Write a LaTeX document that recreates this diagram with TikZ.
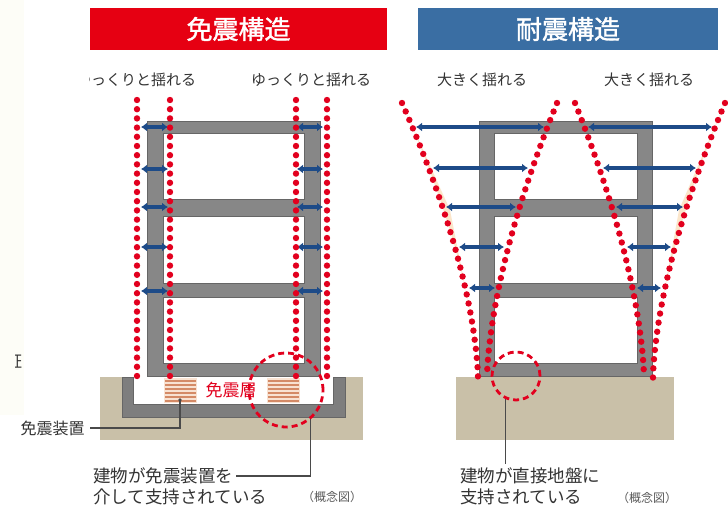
\documentclass[tikz,border=0pt]{standalone}
\usepackage{fontspec}
\newfontfamily\jp{Noto Sans CJK JP}
\newfontfamily\jpb[FakeBold=1.5]{Noto Sans CJK JP}
\usetikzlibrary{arrows.meta}

\definecolor{titlered}{HTML}{E60012}
\definecolor{titleblue}{HTML}{3A6EA3}
\definecolor{dotred}{HTML}{E2001E}
\definecolor{navy}{HTML}{1D4B88}
\definecolor{framegray}{HTML}{878787}
\definecolor{frameedge}{HTML}{666666}
\definecolor{soil}{HTML}{C9C0A8}
\definecolor{pitgray}{HTML}{7E7E7E}
\definecolor{rubber}{HTML}{F8E2D2}
\definecolor{rubberline}{HTML}{D48A66}
\definecolor{inktext}{HTML}{333333}
\definecolor{leadgray}{HTML}{4A4A4A}
\definecolor{peach}{HTML}{FBE4C6}
\definecolor{margincream}{HTML}{FDFDF7}

\begin{document}
\begin{tikzpicture}[x=1pt,y=-1pt,
  titletext/.style={font=\jpb\fontsize{26}{30}\selectfont, text=white, inner sep=0pt},
  sway label/.style={font=\jp\fontsize{15}{18}\selectfont, text=inktext, inner sep=0pt},
  note/.style={font=\jp\fontsize{17.5}{20}\selectfont, text=inktext, inner sep=0pt},
  concept/.style={font=\jp\fontsize{12}{14}\selectfont, text=black!65, inner sep=0pt},
  frame/.style={fill=framegray, draw=frameedge, line width=0.6pt, even odd rule},
  reddots/.style={draw=dotred, line width=6.4pt, line cap=round, dash pattern=on 0pt off 9.2pt},
  sway/.style={draw=navy, line width=4.4pt, {Latex[length=6pt,width=9pt]}-{Latex[length=6pt,width=9pt]}},
  ring/.style={circle, draw=dotred, line width=2.8pt, dash pattern=on 6pt off 4pt, inner sep=0pt},
  leaderline/.style={draw=leadgray, line width=1.2pt},
]
\useasboundingbox (0,0) rectangle (728,509);
\fill[white] (0,0) rectangle (728,509);
\fill[margincream] (0,0) rectangle (24,415);

% cut-off character at the far left
\begin{scope}
  \clip (15,340) rectangle (30,385);
  \node[font=\jp\fontsize{16}{18}\selectfont, text=inktext, inner sep=0pt] (frag) at (14,362) {証};
\end{scope}

% ---------------- title bars ----------------
\fill[titlered] (90,8) rectangle (387,50);
\node[titletext] (titleA) at (238.5,29) {免震構造};
\fill[titleblue] (418,8) rectangle (718,50);
\node[titletext] (titleB) at (568,29) {耐震構造};

% ---------------- base-isolated building ----------------
\begin{scope}
  \clip (89,60) rectangle (210,100);
  \node[sway label] (slowA) at (136,80) {ゆっくりと揺れる};
\end{scope}
\node[sway label] (slowB) at (311,80) {ゆっくりと揺れる};

% ground and foundation pit
\fill[soil] (100,377) rectangle (363,440);
\fill[white] (133,377) rectangle (333,404);
\filldraw[fill=pitgray, draw=frameedge, line width=0.6pt]
  (122,377) -- (122,417) -- (345,417) -- (345,377) -- (333,377)
  -- (333,404) -- (133,404) -- (133,377) -- cycle;

% laminated rubber bearings
\foreach \dx in {164,267} {
  \fill[rubber] (\dx,378) rectangle ++(33,25);
  \foreach \k in {0,...,5}
    \draw[rubberline, line width=1.3pt] (\dx+1,381+\k*4) -- ++(31,0);
}

% frame
\path[frame] (147,121) rectangle (320,376)
  (163,133) rectangle (304,199)
  (163,216) rectangle (304,283)
  (163,297) rectangle (304,363);

% isolation layer tag
\node[fill=white, rounded corners=4pt, inner xsep=2pt, inner ysep=2pt,
      font=\jp\fontsize{17}{19}\selectfont, text=dotred] (layer) at (231,390) {免震層};

% small sway arrows
\foreach \y in {127,169,207,247,291} {
  \draw[sway] (141,\y) -- (168,\y);
  \draw[sway] (297,\y) -- (323,\y);
}
% slow swaying envelope
\foreach \x in {137,170,296,327}
  \draw[reddots] (\x,100) -- (\x,383);

% detail ring and leaders
\node[ring, minimum size=74pt] (ring1) at (286,390) {};

\coordinate (bearing) at (180,400);
\fill[leadgray] (bearing) circle (1.8pt);
\node[font=\jp\fontsize{16}{18}\selectfont, text=inktext, inner sep=0pt] (bearinglbl) at (52.5,428) {免震装置};
\draw[leaderline, shorten >=5pt] (bearing) |- (bearinglbl.east);

\node[note, anchor=west] (noteA1) at (93,476) {建物が免震装置を};
\node[note, anchor=west] (noteA2) at (93,497) {介して支持されている};
\draw[leaderline, shorten >=3pt] (ring1.-50) |- (noteA1.east);
\node[concept] (conceptA) at (332,497) {（概念図）};

% ---------------- earthquake-resistant building ----------------
\node[sway label] (largeA) at (482,80) {大きく揺れる};
\node[sway label] (largeB) at (649,80) {大きく揺れる};

\fill[soil] (456,377) rectangle (674,440);

\path[frame] (479,121) rectangle (652,376)
  (494,133) rectangle (637,199)
  (494,216) rectangle (637,283)
  (494,297) rectangle (637,363);

% faint motion trails on the outer envelopes
\fill[peach, fill opacity=0.9]
  plot[domain=0:0.789, samples=30] ({478-76*(1-\x)^1.6},{103+275*\x}) -- (450,210) -- cycle;
\fill[peach, fill opacity=0.9]
  plot[domain=0:0.789, samples=30] ({653+72*(1-\x)^1.6},{103+275*\x}) -- (679,210) -- cycle;

% large sway arrows
\draw[sway] (416,127) -- (544,127);
\draw[sway] (433,168) -- (528,168);
\draw[sway] (446,207) -- (516,207);
\draw[sway] (459,247) -- (504,247);
\draw[sway] (469,288) -- (495,288);
\draw[sway] (588,127) -- (712,127);
\draw[sway] (603,168) -- (696,168);
\draw[sway] (616,207) -- (683,207);
\draw[sway] (627,247) -- (671,247);
\draw[sway] (637,288) -- (661,288);

% amplified swaying envelope
\draw[reddots] plot[domain=0:0.999, samples=60] ({478-76*(1-\x)^1.6},{103+275*\x});
\draw[reddots] plot[domain=0:0.999, samples=60] ({487+70*(1-\x)^1.6},{103+275*\x});
\draw[reddots] plot[domain=0:0.999, samples=60] ({644-69*(1-\x)^1.6},{103+275*\x});
\draw[reddots] plot[domain=0:0.999, samples=60] ({653+72*(1-\x)^1.6},{103+275*\x});

\node[ring, minimum size=48pt] (ring2) at (516,376) {};
\node[note, anchor=west] (noteB1) at (460,476) {建物が直接地盤に};
\node[note, anchor=west] (noteB2) at (460,497) {支持されている};
\draw[leaderline, shorten >=4pt] (ring2.-115) -- (ring2.-115 |- noteB1.north);
\node[concept] (conceptB) at (647,498) {（概念図）};
\end{tikzpicture}
\end{document}
